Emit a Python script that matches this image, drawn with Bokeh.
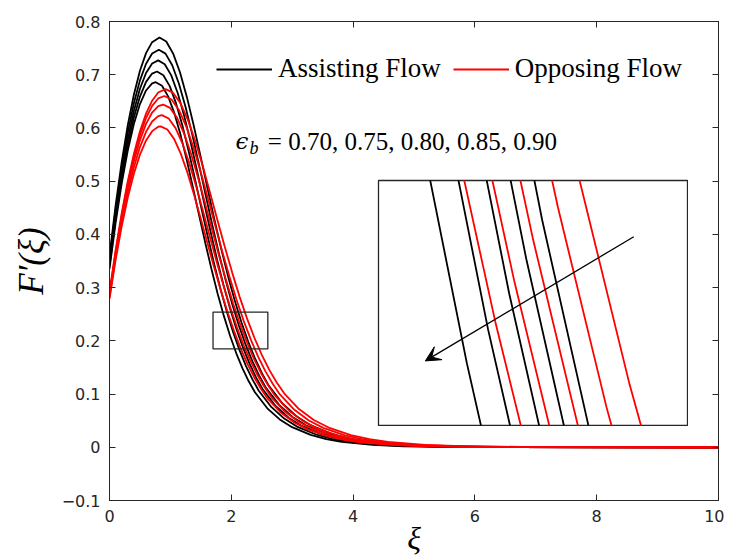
from bokeh.plotting import figure
from bokeh.models import Range1d, LinearAxis, FixedTicker, Legend, LegendItem, Label, Arrow, VeeHead
from bokeh.embed import file_html
from bokeh.resources import INLINE

# ---------------- data ----------------
# Assisting flow (black), eps_b curves
b1_xi = [0.0, 0.1, 0.2, 0.3, 0.4, 0.5, 0.6, 0.7, 0.82, 0.932, 1.044, 1.157, 1.269, 1.381, 1.493, 1.605, 1.718, 1.830, 1.942, 2.054, 2.166, 2.279, 2.391, 2.503, 2.615, 2.840, 3.064, 3.288, 3.625, 3.906, 4.186, 4.747, 5.308, 6.430, 10.0]
b1_f = [0.360, 0.4539, 0.5356, 0.6051, 0.6624, 0.7076, 0.7405, 0.7612, 0.770, 0.7624, 0.7400, 0.7047, 0.6588, 0.6056, 0.5479, 0.4888, 0.4305, 0.3749, 0.3234, 0.2766, 0.2349, 0.1982, 0.1664, 0.1391, 0.1159, 0.0822, 0.0588, 0.0424, 0.0262, 0.0172, 0.0114, 0.0050, 0.0022, 0.0004, 0.0]
b2_xi = [0.0, 0.1, 0.2, 0.3, 0.4, 0.5, 0.6, 0.7, 0.81, 0.920, 1.030, 1.139, 1.249, 1.359, 1.469, 1.578, 1.688, 1.798, 1.908, 2.017, 2.127, 2.237, 2.347, 2.456, 2.566, 2.786, 3.005, 3.225, 3.554, 3.828, 4.103, 4.651, 5.200, 6.298, 10.0]
b2_f = [0.354, 0.4450, 0.5241, 0.5912, 0.6463, 0.6894, 0.7206, 0.7398, 0.747, 0.7396, 0.7179, 0.6836, 0.6392, 0.5875, 0.5316, 0.4742, 0.4176, 0.3637, 0.3137, 0.2683, 0.2279, 0.1923, 0.1615, 0.1350, 0.1124, 0.0797, 0.0570, 0.0412, 0.0254, 0.0167, 0.0111, 0.0049, 0.0021, 0.0004, 0.0]
b3_xi = [0.0, 0.1, 0.2, 0.3, 0.4, 0.5, 0.6, 0.7, 0.80, 0.907, 1.014, 1.121, 1.228, 1.335, 1.442, 1.549, 1.657, 1.764, 1.871, 1.978, 2.085, 2.192, 2.299, 2.406, 2.513, 2.727, 2.941, 3.156, 3.477, 3.744, 4.012, 4.547, 5.083, 6.154, 10.0]
b3_f = [0.347, 0.4361, 0.5133, 0.5786, 0.6320, 0.6736, 0.7033, 0.7211, 0.727, 0.7198, 0.6987, 0.6653, 0.6220, 0.5717, 0.5173, 0.4615, 0.4064, 0.3540, 0.3053, 0.2611, 0.2217, 0.1872, 0.1571, 0.1314, 0.1094, 0.0776, 0.0555, 0.0401, 0.0247, 0.0163, 0.0108, 0.0048, 0.0021, 0.0004, 0.0]
b4_xi = [0.0, 0.1, 0.2, 0.3, 0.4, 0.5, 0.6, 0.7, 0.78, 0.884, 0.989, 1.093, 1.198, 1.302, 1.407, 1.511, 1.616, 1.720, 1.825, 1.929, 2.033, 2.138, 2.242, 2.347, 2.451, 2.660, 2.869, 3.078, 3.391, 3.652, 3.913, 4.436, 4.958, 6.003, 10.0]
b4_f = [0.341, 0.4286, 0.5042, 0.5678, 0.6194, 0.6590, 0.6866, 0.7022, 0.706, 0.6990, 0.6785, 0.6461, 0.6041, 0.5552, 0.5024, 0.4481, 0.3947, 0.3438, 0.2965, 0.2536, 0.2153, 0.1817, 0.1526, 0.1276, 0.1063, 0.0753, 0.0539, 0.0389, 0.0240, 0.0158, 0.0104, 0.0046, 0.0020, 0.0004, 0.0]
b5_xi = [0.0, 0.1, 0.2, 0.3, 0.4, 0.5, 0.6, 0.7, 0.76, 0.862, 0.963, 1.065, 1.167, 1.269, 1.370, 1.472, 1.574, 1.676, 1.777, 1.879, 1.981, 2.082, 2.184, 2.286, 2.388, 2.591, 2.795, 2.998, 3.303, 3.558, 3.812, 4.321, 4.829, 5.847, 10.0]
b5_f = [0.335, 0.4213, 0.4954, 0.5574, 0.6072, 0.6449, 0.6704, 0.6838, 0.686, 0.6792, 0.6593, 0.6278, 0.5870, 0.5395, 0.4881, 0.4354, 0.3835, 0.3340, 0.2881, 0.2464, 0.2092, 0.1766, 0.1483, 0.1240, 0.1033, 0.0732, 0.0523, 0.0378, 0.0233, 0.0154, 0.0102, 0.0045, 0.0019, 0.0004, 0.0]

# Opposing flow (red)
r1_xi = [0.0, 0.1, 0.2, 0.3, 0.4, 0.5, 0.6, 0.7, 0.8, 0.92, 1.042, 1.163, 1.285, 1.407, 1.529, 1.650, 1.772, 1.894, 2.016, 2.137, 2.259, 2.381, 2.503, 2.624, 2.746, 2.868, 3.111, 3.355, 3.598, 3.964, 4.268, 4.572, 5.181, 5.790, 7.007, 10.0]
r1_f = [0.292, 0.3703, 0.4397, 0.5000, 0.5513, 0.5936, 0.6269, 0.6512, 0.6665, 0.673, 0.6663, 0.6468, 0.6159, 0.5758, 0.5293, 0.4789, 0.4272, 0.3762, 0.3277, 0.2826, 0.2417, 0.2053, 0.1733, 0.1455, 0.1216, 0.1013, 0.0718, 0.0513, 0.0371, 0.0229, 0.0151, 0.0100, 0.0044, 0.0019, 0.0004, 0.0]
r2_xi = [0.0, 0.1, 0.2, 0.3, 0.4, 0.5, 0.6, 0.7, 0.8, 0.90, 1.019, 1.137, 1.256, 1.375, 1.493, 1.612, 1.730, 1.849, 1.968, 2.086, 2.205, 2.324, 2.442, 2.561, 2.680, 2.798, 3.036, 3.273, 3.510, 3.866, 4.163, 4.459, 5.052, 5.646, 6.832, 10.0]
r2_f = [0.288, 0.3660, 0.4349, 0.4947, 0.5452, 0.5865, 0.6187, 0.6416, 0.6554, 0.660, 0.6534, 0.6343, 0.6040, 0.5647, 0.5191, 0.4696, 0.4189, 0.3690, 0.3214, 0.2772, 0.2371, 0.2013, 0.1699, 0.1427, 0.1193, 0.0993, 0.0704, 0.0504, 0.0364, 0.0224, 0.0148, 0.0098, 0.0043, 0.0019, 0.0004, 0.0]
r3_xi = [0.0, 0.1, 0.2, 0.3, 0.4, 0.5, 0.6, 0.7, 0.8, 0.88, 0.995, 1.110, 1.225, 1.340, 1.455, 1.570, 1.685, 1.799, 1.914, 2.029, 2.144, 2.259, 2.374, 2.489, 2.604, 2.719, 2.949, 3.179, 3.408, 3.753, 4.041, 4.328, 4.903, 5.477, 6.627, 10.0]
r3_f = [0.285, 0.3619, 0.4296, 0.4880, 0.5372, 0.5771, 0.6077, 0.6290, 0.6410, 0.644, 0.6376, 0.6189, 0.5894, 0.5510, 0.5065, 0.4583, 0.4088, 0.3600, 0.3136, 0.2705, 0.2313, 0.1964, 0.1658, 0.1392, 0.1164, 0.0969, 0.0687, 0.0491, 0.0355, 0.0219, 0.0144, 0.0095, 0.0042, 0.0018, 0.0004, 0.0]
r4_xi = [0.0, 0.1, 0.2, 0.3, 0.4, 0.5, 0.6, 0.7, 0.8, 0.86, 0.972, 1.085, 1.197, 1.310, 1.422, 1.535, 1.647, 1.760, 1.872, 1.984, 2.097, 2.209, 2.322, 2.434, 2.547, 2.659, 2.884, 3.109, 3.334, 3.671, 3.952, 4.233, 4.795, 5.358, 6.482, 10.0]
r4_f = [0.282, 0.3569, 0.4226, 0.4790, 0.5262, 0.5641, 0.5927, 0.6122, 0.6223, 0.624, 0.6178, 0.5997, 0.5711, 0.5339, 0.4907, 0.4440, 0.3961, 0.3488, 0.3038, 0.2621, 0.2241, 0.1903, 0.1606, 0.1349, 0.1128, 0.0939, 0.0666, 0.0476, 0.0344, 0.0212, 0.0140, 0.0092, 0.0041, 0.0018, 0.0003, 0.0]
r5_xi = [0.0, 0.1, 0.2, 0.3, 0.4, 0.5, 0.6, 0.7, 0.8, 0.84, 0.950, 1.060, 1.170, 1.280, 1.390, 1.500, 1.610, 1.720, 1.831, 1.941, 2.051, 2.161, 2.271, 2.381, 2.491, 2.601, 2.821, 3.041, 3.261, 3.592, 3.867, 4.142, 4.692, 5.242, 6.343, 10.0]
r5_f = [0.279, 0.3515, 0.4149, 0.4691, 0.5141, 0.5499, 0.5765, 0.5940, 0.6023, 0.603, 0.5970, 0.5795, 0.5518, 0.5160, 0.4742, 0.4291, 0.3828, 0.3371, 0.2936, 0.2532, 0.2166, 0.1839, 0.1552, 0.1303, 0.1090, 0.0908, 0.0643, 0.0460, 0.0332, 0.0205, 0.0135, 0.0089, 0.0039, 0.0017, 0.0003, 0.0]

assisting = [(b1_xi, b1_f), (b2_xi, b2_f), (b3_xi, b3_f), (b4_xi, b4_f), (b5_xi, b5_f)]
opposing = [(r1_xi, r1_f), (r2_xi, r2_f), (r3_xi, r3_f), (r4_xi, r4_f), (r5_xi, r5_f)]

x_ticks = [0, 2, 4, 6, 8, 10]
x_tick_labels = ["0", "2", "4", "6", "8", "10"]
y_ticks = [-0.1, 0, 0.1, 0.2, 0.3, 0.4, 0.5, 0.6, 0.7, 0.8]
y_tick_labels = ["\u22120.1", "0", "0.1", "0.2", "0.3", "0.4", "0.5", "0.6", "0.7", "0.8"]
x_limits = [0, 10]
y_limits = [-0.1, 0.8]

zoom_box_x = [1.7, 2.6]
zoom_box_y = [0.185, 0.254]
inset_x_limits = [1.764, 2.523]
inset_y_limits = [0.198, 0.242]
arrow_start = [2.391, 0.2319]
arrow_end = [1.879, 0.2096]

legend_labels = ["Assisting Flow", "Opposing Flow"]
eps_symbol = "\u03f5"
eps_sub = "b"
eps_text = "= 0.70, 0.75, 0.80, 0.85, 0.90"
x_label = "\u03be"
y_label = "F\u2032(\u03be)"

AX = "#262626"
BLACK = "#000000"
RED = "#ff0000"
LW = 1.8

# ---------------- main figure ----------------
p = figure(width=724, height=558, x_range=Range1d(*x_limits), y_range=Range1d(*y_limits),
           output_backend="svg", toolbar_location=None,
           min_border_left=109, min_border_right=6, min_border_top=21, min_border_bottom=58)
p.xgrid.visible = False
p.ygrid.visible = False
p.outline_line_color = AX
p.background_fill_color = "white"
p.border_fill_color = "white"


def style_axis(ax, ticks, labels, show):
    ax.ticker = FixedTicker(ticks=ticks)
    ax.major_tick_in = 6
    ax.major_tick_out = 0
    ax.minor_tick_line_color = None
    ax.axis_line_color = AX
    ax.major_tick_line_color = AX
    ax.axis_line_width = 1
    ax.major_label_text_font = "DejaVu Sans"
    if show:
        ax.major_label_overrides = {t: l for t, l in zip(ticks, labels)}
        ax.major_label_text_color = AX
        ax.major_label_text_font_size = "16px"
        ax.major_label_standoff = 9
    else:
        ax.major_label_text_color = None
        ax.major_label_text_font_size = "0px"
        ax.major_label_standoff = 0


bottom = p.below[0]
left = p.left[0]
style_axis(bottom, x_ticks, x_tick_labels, True)
style_axis(left, y_ticks, y_tick_labels, True)

bottom.axis_label = x_label
bottom.axis_label_text_font = "Liberation Serif"
bottom.axis_label_text_font_style = "italic"
bottom.axis_label_text_font_size = "32px"
bottom.axis_label_text_color = BLACK
bottom.axis_label_standoff = -5

left.axis_label = y_label
left.axis_label_text_font = "Liberation Serif"
left.axis_label_text_font_style = "italic"
left.axis_label_text_font_size = "35px"
left.axis_label_text_color = BLACK
left.axis_label_standoff = 8

top_axis = LinearAxis()
right_axis = LinearAxis()
style_axis(top_axis, x_ticks, x_tick_labels, False)
style_axis(right_axis, y_ticks, y_tick_labels, False)
p.add_layout(top_axis, "above")
p.add_layout(right_axis, "right")

black_r = [p.line(xs, ys, line_color=BLACK, line_width=LW) for xs, ys in assisting]
red_r = [p.line(xs, ys, line_color=RED, line_width=LW) for xs, ys in opposing]

p.quad(left=[zoom_box_x[0]], right=[zoom_box_x[1]], bottom=[zoom_box_y[0]], top=[zoom_box_y[1]],
       fill_color=None, line_color=AX, line_width=1.3)

legend = Legend(items=[LegendItem(label=legend_labels[0], renderers=[black_r[0]]),
                       LegendItem(label=legend_labels[1], renderers=[red_r[0]])],
                orientation="horizontal", location=(107, 416),
                label_text_font="Liberation Serif", label_text_font_size="27px",
                label_text_color=BLACK, glyph_width=56, glyph_height=30, label_height=30,
                label_standoff=6, spacing=12, padding=0, margin=0,
                border_line_color=None, background_fill_alpha=0)
p.add_layout(legend)

p.add_layout(Label(x=2.069, y=0.575, text=eps_symbol, text_font="DejaVu Serif",
                   text_font_style="italic", text_font_size="23px", text_color=BLACK,
                   text_baseline="alphabetic"))
p.add_layout(Label(x=2.30, y=0.563, text=eps_sub, text_font="Liberation Serif",
                   text_font_style="italic", text_font_size="18px", text_color=BLACK,
                   text_baseline="alphabetic"))
p.add_layout(Label(x=2.60, y=0.575, text=eps_text, text_font="Liberation Serif",
                   text_font_size="25px", text_color=BLACK, text_baseline="alphabetic"))

# ---------------- inset ----------------
inset = figure(width=311, height=247, x_range=Range1d(*inset_x_limits), y_range=Range1d(*inset_y_limits),
               output_backend="svg", toolbar_location=None, min_border=1,
               x_axis_type=None, y_axis_type=None,
               styles={"position": "absolute", "left": "377px", "top": "179px"})
inset.outline_line_color = AX
inset.outline_line_width = 1.3
inset.background_fill_color = "white"
inset.border_fill_color = None
for xs, ys in assisting:
    inset.line(xs, ys, line_color=BLACK, line_width=LW)
for xs, ys in opposing:
    inset.line(xs, ys, line_color=RED, line_width=LW)
inset.add_layout(Arrow(end=VeeHead(size=15, fill_color=BLACK, line_color=BLACK),
                       x_start=arrow_start[0], y_start=arrow_start[1],
                       x_end=arrow_end[0], y_end=arrow_end[1],
                       line_color=BLACK, line_width=1.3))

html = file_html([p, inset], INLINE, title="F'(xi) profiles")
with open("out.html", "w") as fh:
    fh.write(html)
